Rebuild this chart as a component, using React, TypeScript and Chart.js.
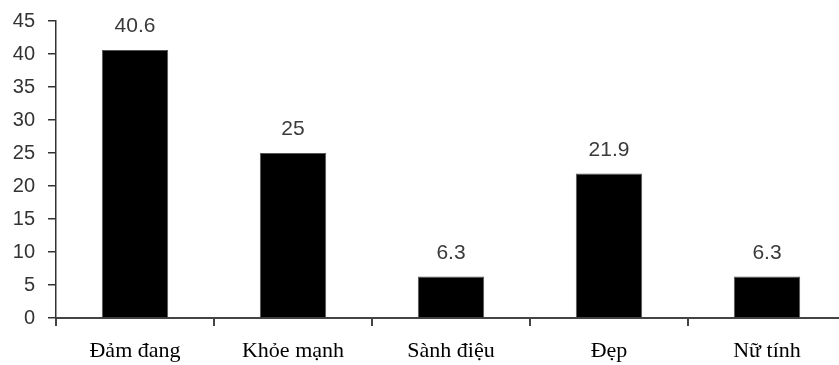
import { useEffect, useRef } from "react";
import { Chart, registerables } from "chart.js";

Chart.register(...registerables);

const categories = ["Đảm đang", "Khỏe mạnh", "Sành điệu", "Đẹp", "Nữ tính"];
const values = [40.6, 25, 6.3, 21.9, 6.3];
const yTicks = [0, 5, 10, 15, 20, 25, 30, 35, 40, 45];

const valueLabels = {
  id: "valueLabels",
  afterDatasetsDraw(chart: any) {
    const ctx = chart.ctx;
    const meta = chart.getDatasetMeta(0);
    ctx.save();
    ctx.font = "21px 'Liberation Sans', Arial, sans-serif";
    ctx.fillStyle = "#3a3a3a";
    ctx.textAlign = "center";
    ctx.textBaseline = "bottom";
    meta.data.forEach((bar: any, i: number) => {
      ctx.fillText(String(values[i]), bar.x, bar.y - 13);
    });
    ctx.restore();
  },
};

export default function App() {
  const ref = useRef<HTMLCanvasElement | null>(null);

  useEffect(() => {
    document.body.style.margin = "0";
    const canvas = ref.current;
    if (!canvas) return;
    const chart = new Chart(canvas, {
      type: "bar",
      data: {
        labels: categories,
        datasets: [
          {
            data: values,
            backgroundColor: "#000000",
            borderColor: "#555555",
            borderWidth: 1,
            barPercentage: 0.42,
            categoryPercentage: 1,
          },
        ],
      },
      options: {
        responsive: false,
        animation: false,
        devicePixelRatio: 1,
        layout: { padding: { top: 21, right: 4, left: 0, bottom: 0 } },
        plugins: { legend: { display: false }, tooltip: { enabled: false } },
        scales: {
          x: {
            grid: {
              offset: true,
              drawOnChartArea: false,
              drawTicks: true,
              tickLength: 8,
              color: "#444444",
              lineWidth: 2,
            },
            border: { display: true, color: "#444444", width: 2 },
            ticks: {
              color: "#000000",
              font: { family: "'Liberation Serif', 'Times New Roman', serif", size: 22 },
              padding: 12,
              maxRotation: 0,
              autoSkip: false,
            },
            afterFit(scale: any) {
              scale.height = 47;
              scale.paddingLeft = 0;
              scale.paddingRight = 0;
            },
          },
          y: {
            min: 0,
            max: 45,
            afterBuildTicks(scale: any) {
              scale.ticks = yTicks.map((v) => ({ value: v }));
            },
            grid: {
              drawOnChartArea: false,
              drawTicks: true,
              tickLength: 8,
              color: "#333333",
              lineWidth: 1.5,
            },
            border: { display: true, color: "#333333", width: 1.5 },
            ticks: {
              color: "#333333",
              font: { family: "'Liberation Sans', Arial, sans-serif", size: 20 },
              padding: 13,
            },
            afterFit(scale: any) {
              scale.width = 56;
              scale.paddingTop = 0;
              scale.paddingBottom = 0;
            },
          },
        },
      },
      plugins: [valueLabels],
    });
    return () => chart.destroy();
  }, []);

  return (
    <div style={{ width: 839, height: 365, overflow: "hidden", background: "#fff" }}>
      <canvas ref={ref} width={850} height={365} style={{ display: "block" }} />
    </div>
  );
}
